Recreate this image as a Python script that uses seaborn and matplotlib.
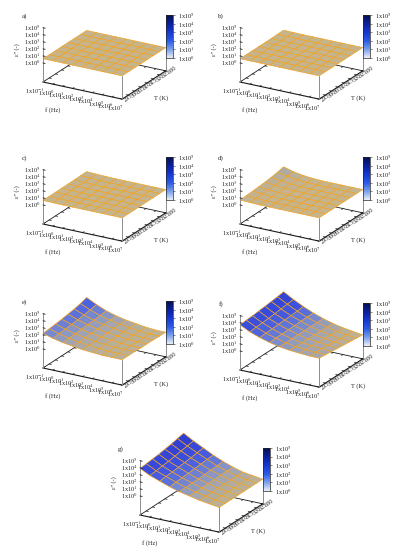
import numpy as np
import matplotlib
matplotlib.use("Agg")
import matplotlib.pyplot as plt
import seaborn as sns
from matplotlib.colors import LinearSegmentedColormap, Normalize
from matplotlib.cm import ScalarMappable
from mpl_toolkits.mplot3d import proj3d

# grid of the measurement: log10(f/Hz) and T in K
freq_exp = [-1, 0, 1, 2, 3, 4, 5, 6, 7]
temps = [295, 300, 305, 310, 315, 320, 325, 330]
z_ticks = [0, 1, 2, 3, 4, 5]
t_ticks = [295, 300, 305, 310, 315, 320, 325, 330]
panel_names = ["a)", "b)", "c)", "d)", "e)", "f)", "g)"]

# log10(eps'') for every panel, one row per temperature (295 K first)
eps_a = [
    [0.6, 0.6, 0.6, 0.6, 0.6, 0.6, 0.6, 0.6, 0.6],
    [0.6, 0.6, 0.6, 0.6, 0.6, 0.6, 0.6, 0.6, 0.6],
    [0.6, 0.6, 0.6, 0.6, 0.6, 0.6, 0.6, 0.6, 0.6],
    [0.6, 0.6, 0.6, 0.6, 0.6, 0.6, 0.6, 0.6, 0.6],
    [0.6, 0.6, 0.6, 0.6, 0.6, 0.6, 0.6, 0.6, 0.6],
    [0.6, 0.6, 0.6, 0.6, 0.6, 0.6, 0.6, 0.6, 0.6],
    [0.6, 0.6, 0.6, 0.6, 0.6, 0.6, 0.6, 0.6, 0.6],
    [0.6, 0.6, 0.6, 0.6, 0.6, 0.6, 0.6, 0.6, 0.6],
]
eps_b = [
    [0.6, 0.6, 0.6, 0.6, 0.6, 0.6, 0.6, 0.6, 0.6],
    [0.6, 0.6, 0.6, 0.6, 0.6, 0.6, 0.6, 0.6, 0.6],
    [0.6, 0.6, 0.6, 0.6, 0.6, 0.6, 0.6, 0.6, 0.6],
    [0.6, 0.6, 0.6, 0.6, 0.6, 0.6, 0.6, 0.6, 0.6],
    [0.6, 0.6, 0.6, 0.6, 0.6, 0.6, 0.6, 0.6, 0.6],
    [0.6, 0.6, 0.6, 0.6, 0.6, 0.6, 0.6, 0.6, 0.6],
    [0.62, 0.6, 0.6, 0.6, 0.6, 0.6, 0.6, 0.6, 0.6],
    [0.64, 0.61, 0.6, 0.6, 0.6, 0.6, 0.6, 0.6, 0.6],
]
eps_c = [
    [0.65, 0.62, 0.6, 0.6, 0.6, 0.6, 0.6, 0.6, 0.6],
    [0.65, 0.62, 0.6, 0.6, 0.6, 0.6, 0.6, 0.6, 0.6],
    [0.66, 0.62, 0.6, 0.6, 0.6, 0.6, 0.6, 0.6, 0.6],
    [0.66, 0.63, 0.6, 0.6, 0.6, 0.6, 0.6, 0.6, 0.6],
    [0.67, 0.63, 0.61, 0.6, 0.6, 0.6, 0.6, 0.6, 0.6],
    [0.68, 0.64, 0.61, 0.6, 0.6, 0.6, 0.6, 0.6, 0.6],
    [0.7, 0.65, 0.62, 0.6, 0.6, 0.6, 0.6, 0.6, 0.6],
    [0.72, 0.66, 0.62, 0.6, 0.6, 0.6, 0.6, 0.6, 0.6],
]
eps_d = [
    [0.7, 0.65, 0.6, 0.6, 0.6, 0.6, 0.6, 0.6, 0.6],
    [0.75, 0.68, 0.62, 0.6, 0.6, 0.6, 0.6, 0.6, 0.6],
    [0.8, 0.7, 0.63, 0.6, 0.6, 0.6, 0.6, 0.6, 0.6],
    [0.87, 0.74, 0.65, 0.6, 0.6, 0.6, 0.6, 0.6, 0.6],
    [0.95, 0.79, 0.67, 0.61, 0.6, 0.6, 0.6, 0.6, 0.6],
    [1.05, 0.85, 0.7, 0.62, 0.6, 0.6, 0.6, 0.6, 0.6],
    [1.2, 0.93, 0.74, 0.63, 0.6, 0.6, 0.6, 0.6, 0.6],
    [1.4, 1.02, 0.78, 0.65, 0.6, 0.6, 0.6, 0.6, 0.6],
]
eps_e = [
    [2.2, 1.8, 1.5, 1.3, 1.1, 1.0, 0.9, 0.9, 0.9],
    [2.3, 1.9, 1.55, 1.3, 1.15, 1.0, 0.9, 0.9, 0.9],
    [2.4, 1.95, 1.6, 1.35, 1.15, 1.0, 0.9, 0.9, 0.9],
    [2.5, 2.05, 1.65, 1.4, 1.2, 1.05, 0.9, 0.85, 0.85],
    [2.65, 2.15, 1.75, 1.45, 1.2, 1.05, 0.9, 0.85, 0.85],
    [2.8, 2.25, 1.8, 1.5, 1.25, 1.05, 0.9, 0.85, 0.85],
    [3.0, 2.4, 1.9, 1.55, 1.25, 1.1, 0.9, 0.8, 0.8],
    [3.3, 2.6, 2.0, 1.6, 1.3, 1.1, 0.9, 0.8, 0.8],
]
eps_f = [
    [3.7, 3.0, 2.5, 2.1, 1.8, 1.6, 1.5, 1.4, 1.4],
    [3.8, 3.1, 2.55, 2.15, 1.8, 1.55, 1.45, 1.35, 1.3],
    [3.85, 3.15, 2.6, 2.15, 1.8, 1.55, 1.4, 1.3, 1.2],
    [3.95, 3.2, 2.65, 2.2, 1.8, 1.5, 1.35, 1.2, 1.1],
    [4.05, 3.3, 2.7, 2.2, 1.8, 1.5, 1.3, 1.1, 1.0],
    [4.15, 3.4, 2.75, 2.25, 1.8, 1.45, 1.2, 1.0, 0.9],
    [4.25, 3.5, 2.8, 2.25, 1.8, 1.45, 1.15, 0.95, 0.8],
    [4.4, 3.6, 2.9, 2.3, 1.8, 1.4, 1.1, 0.9, 0.7],
]
eps_g = [
    [3.9, 3.2, 2.7, 2.2, 1.8, 1.5, 1.2, 1.0, 0.8],
    [4.0, 3.3, 2.8, 2.3, 1.85, 1.5, 1.2, 1.0, 0.8],
    [4.1, 3.4, 2.85, 2.35, 1.9, 1.5, 1.2, 1.0, 0.8],
    [4.2, 3.5, 2.95, 2.4, 1.9, 1.55, 1.2, 1.0, 0.8],
    [4.35, 3.65, 3.05, 2.5, 1.95, 1.55, 1.2, 1.0, 0.8],
    [4.5, 3.8, 3.15, 2.55, 2.0, 1.6, 1.2, 1.0, 0.8],
    [4.7, 3.95, 3.3, 2.65, 2.05, 1.6, 1.2, 1.0, 0.8],
    [4.9, 4.1, 3.4, 2.7, 2.1, 1.6, 1.2, 1.0, 0.8],
]
panels = [eps_a, eps_b, eps_c, eps_d, eps_e, eps_f, eps_g]

# front-left floor corner of each panel, in pixels from the top-left
anchors = [(43, 82), (240, 82), (43, 224), (240, 224), (43, 368), (240, 370), (140, 515)]

W, H = 409, 550
Z_BASE, Z_TOP = -2.7, 5.1
ASPECT = (91.4, 87.2, 59.3)

sns.set_theme(style="white")
plt.rcParams["font.family"] = ["Liberation Serif", "DejaVu Serif"]
plt.rcParams["mathtext.fontset"] = "stix"
FS = 4.6
INK = "#1a1a1a"
POST = "#8c8c8c"

surf_cmap = LinearSegmentedColormap.from_list(
    "surf",
    [(0.0, "#c8b68c"), (0.12, "#c6b48d"), (0.2, "#b6af9c"), (0.3, "#9ca2b8"),
     (0.38, "#8090cc"), (0.5, "#5a70dc"), (0.65, "#3c50e0"), (1.0, "#2a36c8")],
)
bar_cmap = sns.blend_palette(["#e8eef8", "#7aa0ec", "#2c5ae6", "#1538d0", "#0a1f9a", "#06104e"], as_cmap=True)
norm = Normalize(0, 5)


def pow_label(n):
    return "1x10$^{%d}$" % n


fig = plt.figure(figsize=(W / 100, H / 100), dpi=100)
X, Y = np.meshgrid(freq_exp, temps)
f_lo, f_hi = min(freq_exp), max(freq_exp)
t_lo, t_hi = min(temps), max(temps)
f_tick = 0.22 * (f_hi - f_lo) / 8
t_tick = 0.035 * (t_hi - t_lo)

for name, data, (ax0, ay0) in zip(panel_names, panels, anchors):
    Z = np.array(data)
    ax = fig.add_axes([0, 0, 0.6, 0.3], projection="3d", proj_type="ortho")
    ax.set_axis_off()
    ax.set_facecolor("none")
    ax.computed_zorder = False
    ax.view_init(elev=22, azim=-60)
    ax.set_xlim(f_lo, f_hi)
    ax.set_ylim(t_lo, t_hi)
    ax.set_zlim(Z_BASE, Z_TOP)
    ax.set_box_aspect(ASPECT, zoom=1.0)

    # floor of the box with its tick marks
    ax.plot([f_lo, f_lo], [t_lo, t_hi], [Z_BASE, Z_BASE], color=INK, lw=0.6, zorder=1)
    ax.plot([f_lo, f_hi], [t_hi, t_hi], [Z_BASE, Z_BASE], color=INK, lw=0.6, zorder=1)
    for t in t_ticks:
        ax.plot([f_lo, f_lo + f_tick], [t, t], [Z_BASE, Z_BASE], color=INK, lw=0.5, zorder=1)
    for fe in freq_exp:
        ax.plot([fe, fe], [t_hi, t_hi - t_tick], [Z_BASE, Z_BASE], color=INK, lw=0.5, zorder=1)

    ax.plot_surface(X, Y, Z, cmap=surf_cmap, norm=norm, rstride=1, cstride=1,
                    edgecolor="#f3a21c", linewidth=0.45, antialiased=True, zorder=2)

    ax.plot([f_lo, f_hi], [t_lo, t_lo], [Z_BASE, Z_BASE], color=INK, lw=0.8, zorder=3)
    ax.plot([f_hi, f_hi], [t_lo, t_hi], [Z_BASE, Z_BASE], color=INK, lw=0.8, zorder=3)
    for fe in freq_exp:
        ax.plot([fe, fe], [t_lo, t_lo + t_tick], [Z_BASE, Z_BASE], color=INK, lw=0.5, zorder=3)
    for t in t_ticks:
        ax.plot([f_hi, f_hi - f_tick], [t, t], [Z_BASE, Z_BASE], color=INK, lw=0.5, zorder=3)

    # corner posts from the floor to the surface, z axis on the left
    ax.plot([f_hi, f_hi], [t_lo, t_lo], [Z_BASE, Z[0, -1]], color=POST, lw=0.7, zorder=3)
    ax.plot([f_hi, f_hi], [t_hi, t_hi], [Z_BASE, Z[-1, -1]], color=POST, lw=0.7, zorder=3)
    ax.plot([f_lo, f_lo], [t_lo, t_lo], [Z_BASE, Z_TOP], color=POST, lw=0.7, zorder=3)
    for zt in z_ticks:
        ax.plot([f_lo, f_lo + f_tick], [t_lo, t_lo], [zt, zt], color=INK, lw=0.6, zorder=3)

    # scale and move the box so the floor matches the reference
    def screen(x, y, z):
        px, py, _ = proj3d.proj_transform(x, y, z, ax.get_proj())
        sx, sy = ax.transData.transform((px, py))
        return np.array([sx, H - sy])

    fig.canvas.draw()
    edge = np.linalg.norm(screen(f_hi, t_lo, Z_BASE) - screen(f_lo, t_lo, Z_BASE))
    ax.set_box_aspect(ASPECT, zoom=81.0 / edge)
    fig.canvas.draw()
    corner = screen(f_lo, t_lo, Z_BASE)
    pos = ax.get_position(original=True)
    dx = (ax0 - corner[0]) / W
    dy = -(ay0 - corner[1]) / H
    ax.set_position([pos.x0 + dx, pos.y0 + dy, pos.width, pos.height])
    fig.canvas.draw()

    # tick labels placed at the projected tick positions
    for zt in z_ticks:
        sx, sy = screen(f_lo, t_lo, zt)
        fig.text((sx - 2) / W, 1 - sy / H, pow_label(zt), fontsize=FS, ha="right", va="center")
    for fe in freq_exp:
        sx, sy = screen(fe, t_lo, Z_BASE)
        fig.text((sx + 2) / W, 1 - (sy + 4) / H, pow_label(fe), fontsize=FS, ha="right", va="top")
    for t in t_ticks:
        sx, sy = screen(f_hi, t, Z_BASE)
        fig.text((sx + 4) / W, 1 - (sy + 3) / H, str(t), fontsize=FS, ha="left", va="baseline",
                 rotation=38, rotation_mode="anchor")

    # axis names and panel letter
    fig.text((ax0 - 19) / W, 1 - (ay0 - 66) / H, name, fontsize=FS + 0.4, ha="center", va="center")
    fig.text((ax0 - 26) / W, 1 - (ay0 - 32) / H, "ε'' (-)", fontsize=FS, rotation=90, ha="center", va="center")
    fig.text((ax0 + 10) / W, 1 - (ay0 + 28) / H, "f (Hz)", fontsize=FS, ha="center", va="center")
    fig.text((ax0 + 118) / W, 1 - (ay0 + 16) / H, "T (K)", fontsize=FS, ha="center", va="center")

    # colour key
    cax = fig.add_axes([(ax0 + 123) / W, 1 - (ay0 - 24) / H, 7 / W, 43 / H])
    cb = fig.colorbar(ScalarMappable(norm=norm, cmap=bar_cmap), cax=cax, ticks=z_ticks)
    cb.ax.set_yticklabels([pow_label(e) for e in z_ticks], fontsize=FS)
    cb.ax.tick_params(length=1.5, width=0.4, pad=2)
    cb.outline.set_linewidth(0.5)

fig.savefig("out.png", dpi=100)
